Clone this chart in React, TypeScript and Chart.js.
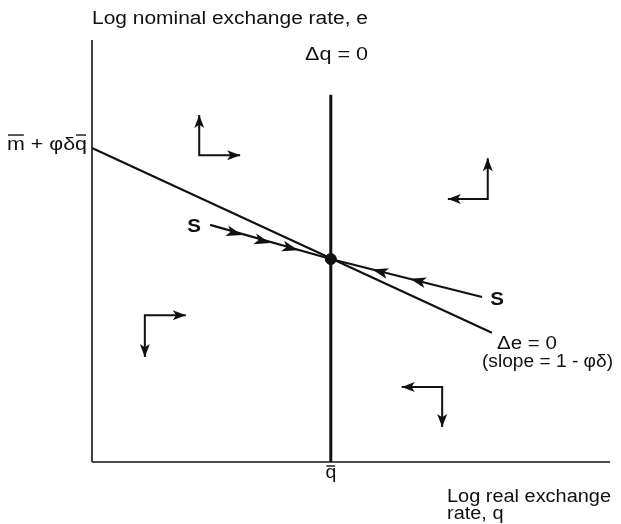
import React, { useEffect, useRef } from "react";
import { Chart, registerables } from "chart.js";

Chart.register(...registerables);

// ---- data (abstract diagram units) ----
const axisQ = [{ x: 0, y: 0 }, { x: 10, y: 0 }];
const axisE = [{ x: 0, y: 0 }, { x: 0, y: 10 }];
const qBar = 4.61;
const interceptE = 7.44;
const deltaQZero = [{ x: qBar, y: 0 }, { x: qBar, y: 8.7 }];
const deltaEZero = [{ x: 0, y: interceptE }, { x: 7.72, y: 3.06 }];
const equilibrium = [{ x: qBar, y: 4.81 }];
const saddlePath = [{ x: 2.28, y: 5.62 }, { x: qBar, y: 4.81 }, { x: 7.53, y: 3.91 }];
const saddleArrows = [
  { x: 2.9, y: 5.38 },
  { x: 3.44, y: 5.19 },
  { x: 3.98, y: 5.02 },
  { x: 5.41, y: 4.56 },
  { x: 6.14, y: 4.34 },
];
const phaseTL = [{ x: 2.07, y: 8.22 }, { x: 2.07, y: 7.27 }, { x: 2.86, y: 7.27 }];
const phaseTR = [{ x: 7.64, y: 7.2 }, { x: 7.64, y: 6.23 }, { x: 6.87, y: 6.23 }];
const phaseBL = [{ x: 1.02, y: 2.49 }, { x: 1.02, y: 3.48 }, { x: 1.81, y: 3.48 }];
const phaseBR = [{ x: 5.98, y: 1.78 }, { x: 6.76, y: 1.78 }, { x: 6.76, y: 0.83 }];
const phaseArrows = [phaseTL, phaseTR, phaseBL, phaseBR];

const INK = "#111";
const FONT = "'Liberation Sans', Arial, Helvetica, sans-serif";

function drawHead(ctx: CanvasRenderingContext2D, tx: number, ty: number, ang: number, len: number, wid: number) {
  ctx.save();
  ctx.translate(tx, ty);
  ctx.rotate(ang);
  ctx.beginPath();
  ctx.moveTo(0, 0);
  ctx.lineTo(-len, -wid / 2);
  ctx.lineTo(-len * 0.75, 0);
  ctx.lineTo(-len, wid / 2);
  ctx.closePath();
  ctx.fillStyle = INK;
  ctx.fill();
  ctx.restore();
}

function text(
  ctx: CanvasRenderingContext2D,
  s: string,
  x: number,
  y: number,
  opts: { size?: number; bold?: boolean; stretch?: number; width?: number; align?: "left" | "center" } = {}
) {
  const size = opts.size ?? 18;
  ctx.save();
  ctx.font = `${opts.bold ? "bold " : ""}${size}px ${FONT}`;
  ctx.fillStyle = INK;
  ctx.textBaseline = "alphabetic";
  const raw = ctx.measureText(s).width;
  const stretch = opts.width ? opts.width / raw : opts.stretch ?? 1.1;
  const w = raw * stretch;
  const left = opts.align === "center" ? x - w / 2 : x;
  ctx.translate(left, y);
  ctx.scale(stretch, 1);
  ctx.textAlign = "left";
  ctx.fillText(s, 0, 0);
  ctx.restore();
  return { w, stretch };
}

function bar(ctx: CanvasRenderingContext2D, x0: number, x1: number, y: number) {
  ctx.save();
  ctx.strokeStyle = INK;
  ctx.lineWidth = 1.4;
  ctx.beginPath();
  ctx.moveTo(x0, y);
  ctx.lineTo(x1, y);
  ctx.stroke();
  ctx.restore();
}

const overlay = {
  id: "overlay",
  afterDatasetsDraw(chart: any) {
    const { ctx, scales } = chart;
    const xs = scales.x;
    const ys = scales.y;
    const P = (p: { x: number; y: number }) => [xs.getPixelForValue(p.x), ys.getPixelForValue(p.y)];

    // phase arrow heads
    phaseArrows.forEach((arr) => {
      const c = P(arr[1]);
      const a = P(arr[0]);
      const b = P(arr[2]);
      drawHead(ctx, a[0], a[1], Math.atan2(a[1] - c[1], a[0] - c[0]), 13, 10);
      drawHead(ctx, b[0], b[1], Math.atan2(b[1] - c[1], b[0] - c[0]), 13, 10);
    });

    // saddle path arrow heads (pointing toward equilibrium)
    const eq = P(equilibrium[0]);
    saddleArrows.forEach((p) => {
      const q = P(p);
      drawHead(ctx, q[0], q[1], Math.atan2(eq[1] - q[1], eq[0] - q[0]), 16, 11);
    });

    // labels
    const xq = xs.getPixelForValue(qBar);
    const yI = ys.getPixelForValue(interceptE);
    text(ctx, "Log nominal exchange rate, e", 92, 24, { width: 276 });
    text(ctx, "\u0394q = 0", 305, 60, { width: 63 });

    // m̄ + φδq̄
    {
      const base = yI + 2;
      ctx.save();
      ctx.font = `18px ${FONT}`;
      const full = "m + \u03c6\u03b4q";
      const st = 80 / ctx.measureText(full).width;
      const wm = ctx.measureText("m").width * st;
      const wmid = ctx.measureText("m + \u03c6\u03b4").width * st;
      const wq = ctx.measureText("q").width * st;
      ctx.restore();
      const x0 = 7;
      text(ctx, full, x0, base, { stretch: st });
      bar(ctx, x0 + 1, x0 + wm - 1, base - 15);
      bar(ctx, x0 + wmid + 1, x0 + wmid + wq - 1, base - 15);
    }

    text(ctx, "S", 194, 232, { bold: true, align: "center", stretch: 1.08, size: 19 });
    text(ctx, "S", 497, 305, { bold: true, align: "center", stretch: 1.08, size: 19 });
    text(ctx, "\u0394e = 0", 497, 349, { width: 60 });
    text(ctx, "(slope = 1 - \u03c6\u03b4)", 482, 367, { width: 131 });

    // q̄ under axis
    {
      const { w } = text(ctx, "q", xq, 478, { align: "center", stretch: 1.08 });
      bar(ctx, xq - w / 2 + 1, xq + w / 2 - 1, 466);
    }
    const { stretch: st2 } = text(ctx, "Log real exchange", 447, 502, { width: 164 });
    text(ctx, "rate, q", 447, 519, { stretch: st2 });
  },
};

export default function App() {
  const ref = useRef<HTMLCanvasElement>(null);
  useEffect(() => {
    if (!ref.current) return;
    const line = (data: any[], width: number) => ({
      data,
      showLine: true,
      borderColor: INK,
      borderWidth: width,
      pointRadius: 0,
      fill: false,
      clip: false as any,
      tension: 0,
    });
    const chart = new Chart(ref.current, {
      type: "scatter",
      data: {
        datasets: [
          line(axisQ, 1.6),
          line(axisE, 1.6),
          line(deltaQZero, 3),
          line(deltaEZero, 2.2),
          line(saddlePath, 2.2),
          ...phaseArrows.map((a) => line(a, 2)),
          {
            data: equilibrium,
            pointRadius: 5.5,
            pointBackgroundColor: INK,
            pointBorderColor: INK,
            showLine: false,
            clip: false as any,
          },
        ],
      },
      options: {
        responsive: false,
        animation: false,
        devicePixelRatio: 1,
        layout: { padding: { left: 92, right: 11, top: 40, bottom: 62 } },
        scales: {
          x: { type: "linear", min: 0, max: 10, display: false },
          y: { type: "linear", min: 0, max: 10, display: false },
        },
        plugins: { legend: { display: false }, tooltip: { enabled: false } },
        events: [],
      },
      plugins: [overlay],
    });
    return () => chart.destroy();
  }, []);
  return (
    <div style={{ position: "absolute", left: 0, top: 0, width: 621, height: 524, background: "#fff" }}>
      <canvas ref={ref} width={621} height={524} style={{ width: 621, height: 524 }} />
    </div>
  );
}
